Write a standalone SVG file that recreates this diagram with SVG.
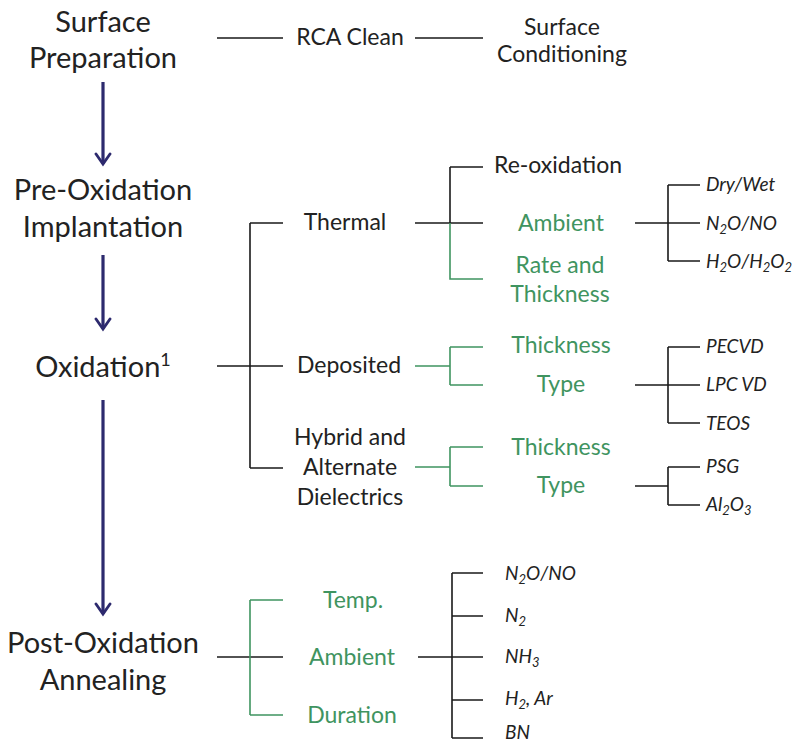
<svg xmlns="http://www.w3.org/2000/svg" width="803" height="744" viewBox="0 0 803 744">
<style>
text{font-family:Lato,"Liberation Sans",sans-serif;fill:#222}
.big{font-size:29px;text-anchor:middle}
.mid{font-size:23px;text-anchor:middle}
.g{fill:#3f9460}
.it{font-size:19px;font-style:italic}
.k{stroke:#1a1a1a;stroke-width:1.6;fill:none}
.gl{stroke:#3f9460;stroke-width:1.6;fill:none}
.arr{stroke:#2d2a6e;stroke-width:3.2;fill:none}
.head{stroke:#2d2a6e;stroke-width:2.8;fill:none;stroke-linecap:round}
</style>
<g id="connectors">
<line class="arr" x1="103" y1="82" x2="103" y2="164"/>
<line class="arr" x1="103" y1="255" x2="103" y2="329"/>
<line class="arr" x1="103" y1="400" x2="103" y2="614"/>
<path class="head" d="M96,154 L103,164 L110,154 M96,319 L103,329 L110,319 M96,604 L103,614 L110,604"/>
<path class="k" d="M217,38 H283 M415,38 H483"/>
<path class="k" d="M217,366 H283 M250,223 V468 M250,223 H283 M250,468 H283"/>
<path class="k" d="M415,223 H483 M450,167 V223 M450,167 H483"/>
<path class="gl" d="M450,223 V279 H483"/>
<path class="k" d="M635,223 H700 M668,185 V261 M668,185 H700 M668,261 H700"/>
<path class="gl" d="M415,366 H450 M450,347 V385 M450,347 H483 M450,385 H483"/>
<path class="k" d="M635,385 H700 M668,347 V423 M668,347 H700 M668,423 H700"/>
<path class="gl" d="M415,467 H450 M450,447 V486 M450,447 H483 M450,486 H483"/>
<path class="k" d="M635,486 H668 M668,467 V505 M668,467 H700 M668,505 H700"/>
<path class="k" d="M217,657 H283"/>
<path class="gl" d="M250,600 V715 M250,600 H283 M250,715 H283"/>
<path class="k" d="M418,657 H483 M452,573 V738 M452,573 H483 M452,616 H483 M452,700 H483 M452,738 H483"/>
</g>
<g id="surface-preparation"><text class="big" x="103" y="32">Surface</text><text class="big" x="103" y="68">Preparation</text></g>
<g id="pre-oxidation"><text class="big" x="103" y="200">Pre-Oxidation</text><text class="big" x="103" y="237">Implantation</text></g>
<g id="oxidation"><text class="big" x="103" y="377">Oxidation<tspan font-size="18" dy="-11">1</tspan></text></g>
<g id="post-oxidation"><text class="big" x="103" y="653">Post-Oxidation</text><text class="big" x="103" y="690">Annealing</text></g>
<g id="rca"><text class="mid" x="350" y="45">RCA Clean</text></g>
<g id="surface-conditioning"><text class="mid" x="562" y="35">Surface</text><text class="mid" x="562" y="62">Conditioning</text></g>
<g id="thermal"><text class="mid" x="345" y="230">Thermal</text></g>
<g id="deposited"><text class="mid" x="349" y="373">Deposited</text></g>
<g id="hybrid"><text class="mid" x="350" y="445">Hybrid and</text><text class="mid" x="350" y="475">Alternate</text><text class="mid" x="350" y="505">Dielectrics</text></g>
<g id="reoxidation"><text class="mid" x="558" y="173">Re-oxidation</text></g>
<g id="ambient1"><text class="mid g" x="561" y="231">Ambient</text></g>
<g id="rate"><text class="mid g" x="560" y="273">Rate and</text><text class="mid g" x="560" y="302">Thickness</text></g>
<g id="thick1"><text class="mid g" x="561" y="353">Thickness</text></g>
<g id="type1"><text class="mid g" x="561" y="392">Type</text></g>
<g id="thick2"><text class="mid g" x="561" y="455">Thickness</text></g>
<g id="type2"><text class="mid g" x="561" y="493">Type</text></g>
<g id="drywet"><text class="it" x="706" y="191">Dry/Wet</text></g>
<g id="n2ono1"><text class="it" x="706" y="230">N<tspan font-size="13" dy="4">2</tspan><tspan dy="-4">O/NO</tspan></text></g>
<g id="h2o"><text class="it" x="706" y="268">H<tspan font-size="13" dy="4">2</tspan><tspan dy="-4">O/H</tspan><tspan font-size="13" dy="4">2</tspan><tspan dy="-4">O</tspan><tspan font-size="13" dy="4">2</tspan></text></g>
<g id="pecvd"><text class="it" x="706" y="353">PECVD</text></g>
<g id="lpcvd"><text class="it" x="706" y="391">LPC VD</text></g>
<g id="teos"><text class="it" x="706" y="430">TEOS</text></g>
<g id="psg"><text class="it" x="706" y="473">PSG</text></g>
<g id="al2o3"><text class="it" x="706" y="511">Al<tspan font-size="13" dy="4">2</tspan><tspan dy="-4">O</tspan><tspan font-size="13" dy="4">3</tspan></text></g>
<g id="temp"><text class="mid g" x="353" y="608">Temp.</text></g>
<g id="ambient2"><text class="mid g" x="352" y="665">Ambient</text></g>
<g id="duration"><text class="mid g" x="352" y="723">Duration</text></g>
<g id="n2ono2"><text class="it" x="505" y="580">N<tspan font-size="13" dy="4">2</tspan><tspan dy="-4">O/NO</tspan></text></g>
<g id="n2"><text class="it" x="505" y="622">N<tspan font-size="13" dy="4">2</tspan></text></g>
<g id="nh3"><text class="it" x="505" y="663">NH<tspan font-size="13" dy="4">3</tspan></text></g>
<g id="h2ar"><text class="it" x="505" y="705">H<tspan font-size="13" dy="4">2</tspan><tspan dy="-4">, Ar</tspan></text></g>
<g id="bn"><text class="it" x="505" y="739">BN</text></g>
</svg>
